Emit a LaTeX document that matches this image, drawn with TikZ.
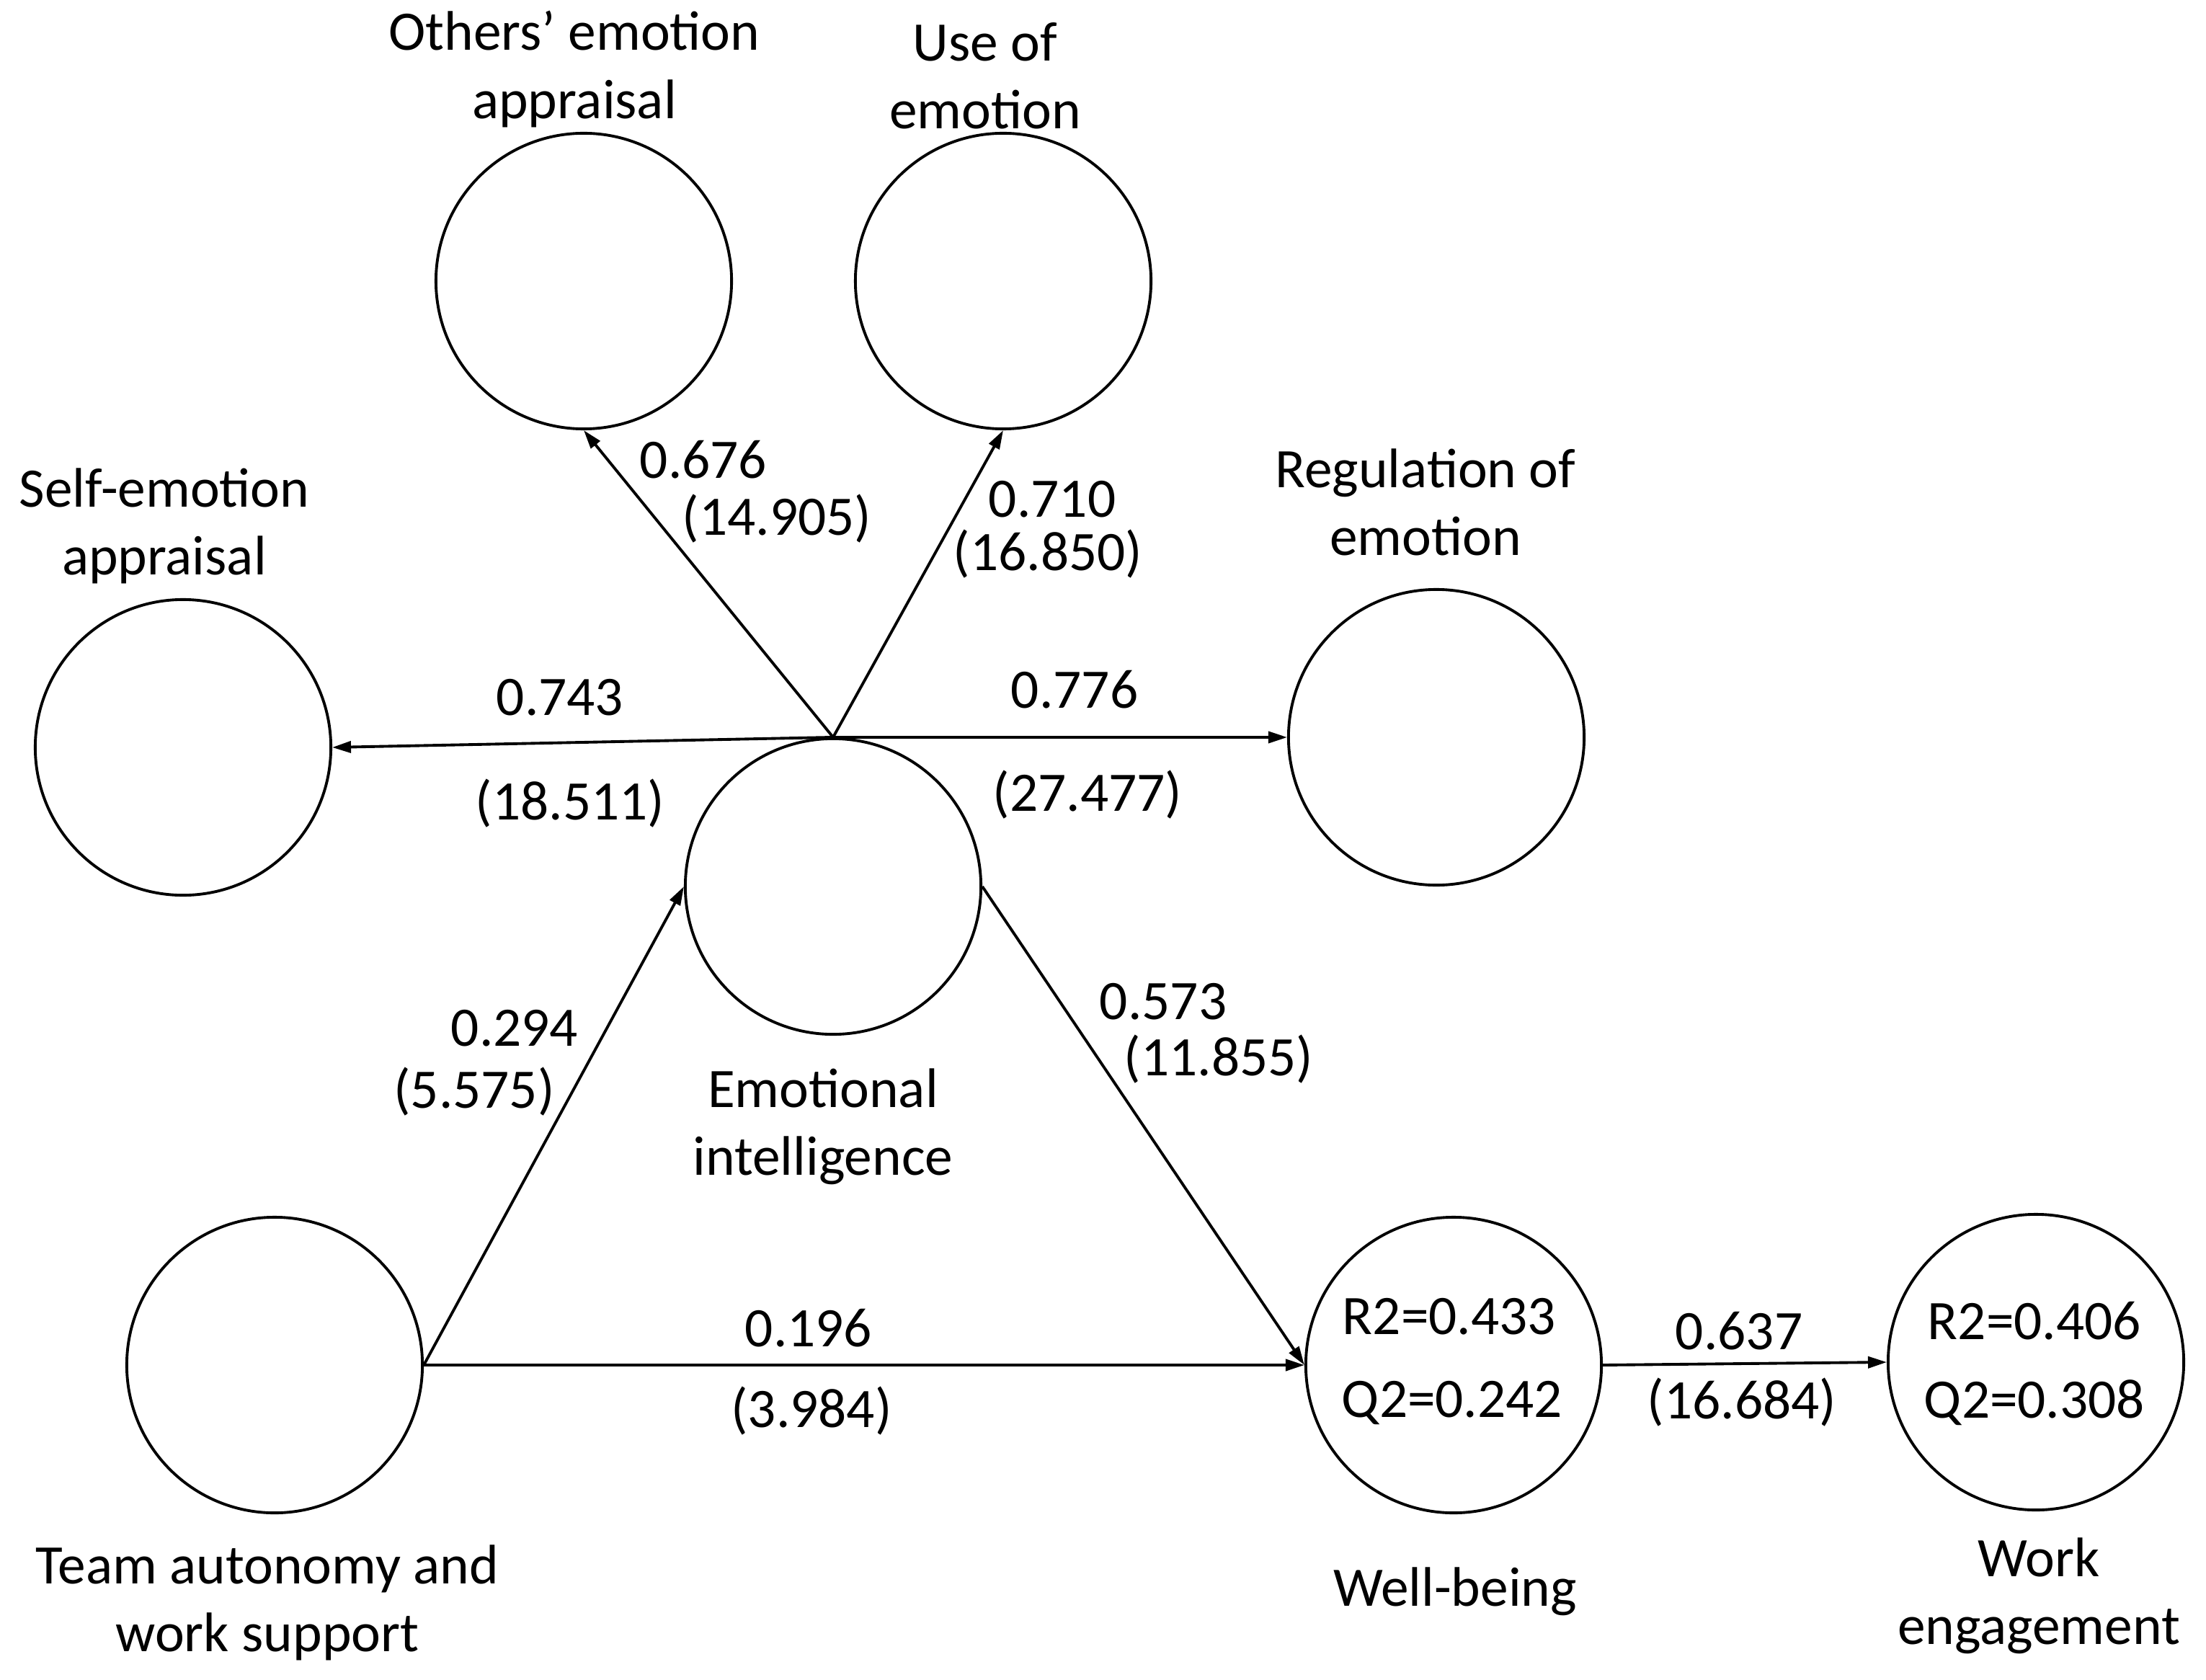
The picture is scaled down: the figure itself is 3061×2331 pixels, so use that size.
\documentclass[tikz,border=0pt]{standalone}
\usepackage{fontspec}
\setmainfont{Carlito}
\usetikzlibrary{arrows.meta}
\begin{document}
\begin{tikzpicture}[x=0.01cm,y=-0.01cm,
  lat/.style={circle,draw=black,line width=1.1pt,minimum size=4.1cm,inner sep=0pt},
  lbl/.style={align=center,inner sep=0pt,font=\fontsize{22}{26.8}\selectfont},
  arr/.style={line width=1.1pt,-{Triangle[length=2.6mm,width=1.6mm]}}]
\useasboundingbox (0,0) rectangle (3061,2331);
% latent variables
\node[lat] (oea) at (810,390) {};
\node[lat] (use) at (1392,390) {};
\node[lat] (sea) at (254,1037) {};
\node[lat] (reg) at (1993,1023) {};
\node[lat] (ei) at (1156,1230) {};
\node[lat] (team) at (381,1894) {};
\node[lat] (wb) at (2017,1894) {};
\node[lat] (we) at (2825,1890) {};
% names
\node[lbl] (toea) at (797,96) {Others’ emotion\\appraisal};
\node[lbl] (tuse) at (1367,105) {Use of\\emotion};
\node[lbl] (tsea) at (228,730) {Self-emotion\\appraisal};
\node[lbl] (treg) at (1978,697) {Regulation of\\emotion};
\node[lbl] (tei) at (1142,1563) {Emotional\\intelligence};
\node[lbl] (tteam) at (371,2224) {Team autonomy and\\work support};
\node[lbl] (twb) at (2019,2208) {Well-being};
\node[lbl] (twe) at (2829,2214) {Work\\engagement};
% inner stats
\node[lbl] (wbr) at (2011,1827) {R2=0.433};
\node[lbl] (wbq) at (2015,1946) {Q2=0.242};
\node[lbl] (wer) at (2823,1833) {R2=0.406};
\node[lbl] (weq) at (2823,1946) {Q2=0.308};
% connectors
\draw[arr] (ei.north) -- (oea.south);
\draw[arr] (ei.north) -- (use.south);
\draw[arr] (ei.north) -- (sea.east);
\draw[arr] (ei.north) -- (reg.west);
\draw[arr] (team.east) -- (ei.west);
\draw[arr] (team.east) -- (wb.west);
\draw[arr] (ei.east) -- (wb.west);
\draw[arr] (wb.east) -- (we.west);
% path coefficients
\node[lbl] (c1) at (976,638) {0.676};
\node[lbl] (c1t) at (1078,720) {(14.905)};
\node[lbl] (c2) at (1460,693) {0.710};
\node[lbl] (c2t) at (1454,769) {(16.850)};
\node[lbl] (c3) at (777,968) {0.743};
\node[lbl] (c3t) at (791,1115) {(18.511)};
\node[lbl] (c4) at (1491,957) {0.776};
\node[lbl] (c4t) at (1509,1103) {(27.477)};
\node[lbl] (c5) at (714,1427) {0.294};
\node[lbl] (c5t) at (658,1515) {(5.575)};
\node[lbl] (c6) at (1614,1390) {0.573};
\node[lbl] (c6t) at (1691,1470) {(11.855)};
\node[lbl] (c7) at (1122,1843) {0.196};
\node[lbl] (c7t) at (1126,1958) {(3.984)};
\node[lbl] (c8) at (2413,1847) {0.637};
\node[lbl] (c8t) at (2417,1946) {(16.684)};
\end{tikzpicture}
\end{document}
